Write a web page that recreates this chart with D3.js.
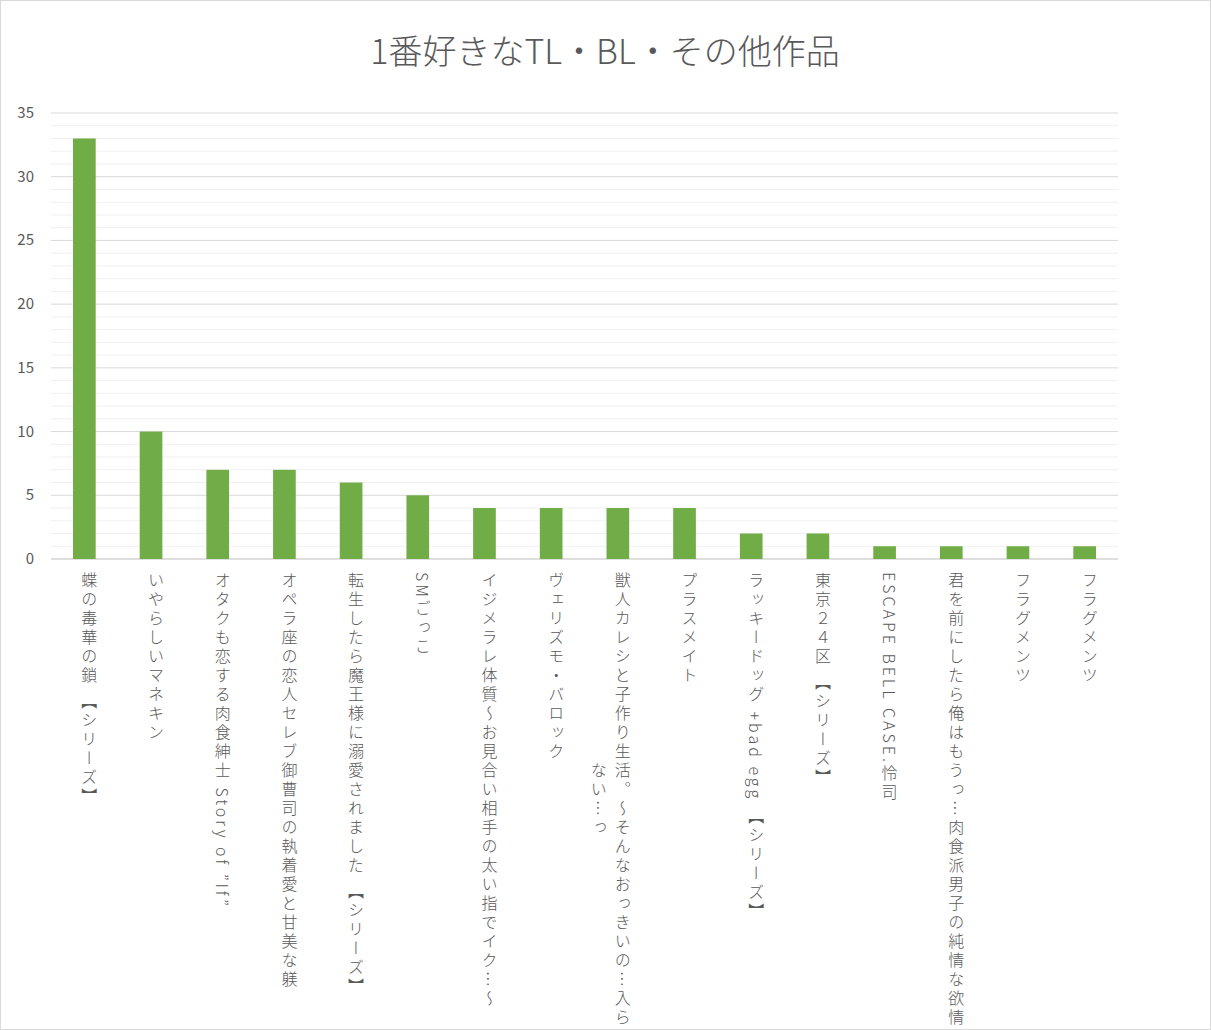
<!DOCTYPE html><html><head><meta charset="utf-8"><script src="https://cdn.jsdelivr.net/npm/d3@7"></script>
<style>body{margin:0;background:#fff}text{font-family:"Noto Sans CJK JP","Noto Sans",sans-serif}</style></head><body>
<svg id="c" width="1211" height="1030"></svg>
<script>
const categories=["蝶の毒華の鎖 【シリーズ】","いやらしいマネキン","オタクも恋する肉食紳士 Story of ”If”","オペラ座の恋人セレブ御曹司の執着愛と甘美な躾","転生したら魔王様に溺愛されました 【シリーズ】","SMごっこ","イジメラレ体質～お見合い相手の太い指でイク…～","ヴェリズモ・バロック","獣人カレシと子作り生活。～そんなおっきいの…入ら|ない…っ","プラスメイト","ラッキードッグ +bad egg 【シリーズ】","東京２４区 【シリーズ】","ESCAPE BELL CASE.怜司","君を前にしたら俺はもうっ…肉食派男子の純情な欲情","フラグメンツ","フラグメンツ"];
const values=[33,10,7,7,6,5,4,4,4,4,2,2,1,1,1,1];
const yTicks=[0,5,10,15,20,25,30,35];
const svg=d3.select("#c");
svg.append("rect").attr("x",0.5).attr("y",0.5).attr("width",1210).attr("height",1029).attr("fill","#fff").attr("stroke","#d9d9d9");
const x=d3.scaleBand().domain(d3.range(categories.length)).range([51,1118]).paddingInner(0.66).paddingOuter(0.33);
const y=d3.scaleLinear().domain([0,35]).range([559,113]);
svg.append("g").selectAll("line").data(d3.range(0,36).filter(v=>v%5)).join("line")
 .attr("x1",51).attr("x2",1118).attr("y1",d=>y(d)).attr("y2",d=>y(d)).attr("stroke","#f0f0f0");
svg.append("g").selectAll("line").data(yTicks).join("line")
 .attr("x1",51).attr("x2",1118).attr("y1",d=>y(d)).attr("y2",d=>y(d)).attr("stroke",d=>d?"#d9d9d9":"#bfbfbf");
svg.append("g").selectAll("text").data(yTicks).join("text").attr("x",34).attr("y",d=>y(d)+5).attr("text-anchor","end")
 .attr("font-size",15).attr("fill","#595959").text(d=>d);
svg.append("g").selectAll("rect").data(values).join("rect").attr("x",(d,i)=>x(i)).attr("width",x.bandwidth())
 .attr("y",d=>y(d)).attr("height",d=>y(0)-y(d)).attr("fill","#70ad47");
categories.forEach((c,i)=>{
 const cx=x(i)+x.bandwidth()/2;
 const lines=c.split("|");
 const t0=svg.append("text").attr("x",cx+5).attr("y",572).style("writing-mode","vertical-rl").style("letter-spacing","3px")
   .attr("font-size",16).attr("font-weight",300).attr("fill","#595959").text(lines[0]);
 if(lines[1]){
  const len=t0.node().getComputedTextLength();
  svg.append("text").attr("x",cx+5-24).attr("y",572+len/2).attr("text-anchor","middle").style("writing-mode","vertical-rl").style("letter-spacing","3px")
   .attr("font-size",16).attr("font-weight",300).attr("fill","#595959").text(lines[1]);
 }
});
svg.append("text").attr("x",605).attr("y",64).attr("text-anchor","middle").attr("font-size",34).attr("font-weight",300).attr("fill","#595959").text("1番好きなTL・BL・その他作品");
</script></body></html>
